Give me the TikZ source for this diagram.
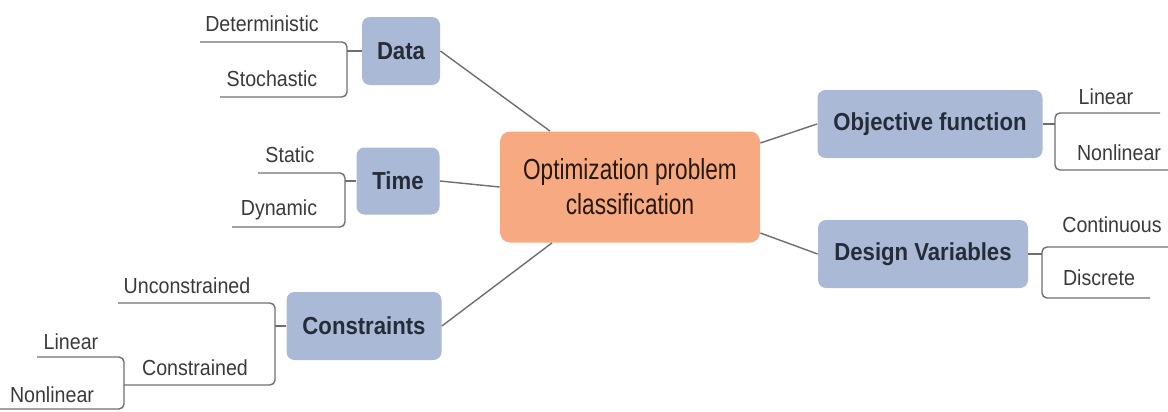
\documentclass[tikz,border=0pt]{standalone}
\usepackage{fontspec}
\newfontfamily\leaffont[FakeStretch=0.9]{Liberation Sans}
\newfontfamily\ctrfont[FakeStretch=0.78]{Liberation Sans}
\definecolor{boxblue}{HTML}{A9B9D6}
\definecolor{boxorange}{HTML}{F7AA82}
\definecolor{linegray}{HTML}{6E6E6E}
\definecolor{leaftext}{HTML}{3A3A3A}
\definecolor{boxtext}{HTML}{262B38}
\begin{document}
\begin{tikzpicture}[x=0.5pt,y=-0.5pt,
  catbox/.style={fill=boxblue, rounded corners=4pt, inner sep=0pt,
    text=boxtext, font=\leaffont\fontsize{12.3}{14}\selectfont\bfseries},
  ctrbox/.style={fill=boxorange, rounded corners=5pt, inner sep=0pt,
    text=black!80!brown, align=center, font=\ctrfont\fontsize{14.5}{17.5}\selectfont},
  leaf/.style={anchor=base, inner sep=0pt, text=leaftext,
    font=\leaffont\fontsize{10.9}{13}\selectfont},
  conn/.style={draw=linegray, line width=0.7pt},
  brk/.style={draw=linegray, line width=0.7pt, rounded corners=2.5pt}]
\useasboundingbox (0,0) rectangle (1168,412);

% central node
\node[ctrbox, minimum width=130pt, minimum height=55.5pt] (ctr) at (630,187)
  {Optimization problem\\classification};

% category boxes
\node[catbox, minimum width=39pt, minimum height=34pt] (data) at (401,51) {Data};
\node[catbox, minimum width=41.5pt, minimum height=33.5pt] (time) at (398,181) {Time};
\node[catbox, minimum width=77.5pt, minimum height=34pt] (cons) at (364,326) {Constraints};
\node[catbox, minimum width=112.5pt, minimum height=34pt] (obj) at (930,124) {Objective function};
\node[catbox, minimum width=105pt, minimum height=34pt] (des) at (923,254) {Design Variables};

% connectors to centre
\draw[conn] (data.east) -- ([xshift=-40pt]ctr.north);
\draw[conn] (time.east) -- (ctr.west);
\draw[conn] (cons.east) -- ([xshift=-39pt]ctr.south);
\draw[conn] ([yshift=22pt]ctr.east) -- (obj.west);
\draw[conn] ([yshift=-23pt]ctr.east) -- (des.west);

% leaves
\node[leaf] (det) at (262,32) {Deterministic};
\node[leaf] (sto) at (272,86) {Stochastic};
\node[leaf] (sta) at (290,162) {Static};
\node[leaf] (dyn) at (279,215) {Dynamic};
\node[leaf] (unc) at (187,293) {Unconstrained};
\node[leaf] (con) at (195,375) {Constrained};
\node[leaf] (lin1) at (71,349) {Linear};
\node[leaf] (nlin1) at (52,402) {Nonlinear};
\node[leaf] (lin2) at (1106,104) {Linear};
\node[leaf] (nlin2) at (1119,160) {Nonlinear};
\node[leaf] (cont) at (1112,232) {Continuous};
\node[leaf] (disc) at (1099,285) {Discrete};

% bracket coordinates
\coordinate (det-l) at (200,42);
\coordinate (sto-l) at (220,97);
\coordinate (sta-l) at (258,173);
\coordinate (dyn-l) at (232,227);
\coordinate (unc-l) at (118,303);
\coordinate (lin1-l) at (37,357);
\coordinate (nlin1-l) at (0,409);
\coordinate (lin2-r) at (1160,113);
\coordinate (nlin2-r) at (1168,170);
\coordinate (cont-r) at (1168,247);
\coordinate (disc-r) at (1150,298);

% Data bracket
\draw[brk] (det-l) -| (347,70) |- (sto-l);
\draw[conn] (347,51) -- (data.west);
% Time bracket
\draw[brk] (sta-l) -| (345,200) |- (dyn-l);
\draw[conn] (345,181) -- (time.west);
% Constraints bracket
\draw[brk] (unc-l) -| (275,340) |- (124,385);
\draw[conn] (275,326) -- (cons.west);
% Constrained sub-bracket
\draw[brk] (lin1-l) -| (124,380) |- (nlin1-l);
% Objective bracket
\draw[brk] (lin2-r) -| (1055,140) |- (nlin2-r);
\draw[conn] (1055,124) -- (obj.east);
% Design bracket
\draw[brk] (cont-r) -| (1042,270) |- (disc-r);
\draw[conn] (1042,254) -- (des.east);
\end{tikzpicture}
\end{document}
